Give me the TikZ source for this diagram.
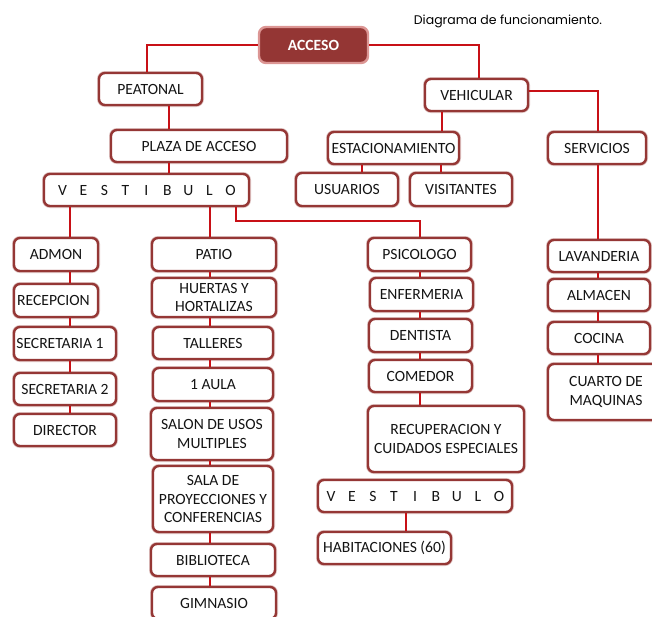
\documentclass[tikz,border=0pt]{standalone}
\usepackage{fontspec}
\setmainfont{Carlito}
\newfontfamily\titlefont{Poppins}
\definecolor{boxred}{RGB}{149,55,53}
\definecolor{linkred}{RGB}{200,16,22}
\definecolor{accfill}{RGB}{148,54,52}
\definecolor{accedge}{RGB}{220,150,148}
\definecolor{txt}{RGB}{20,20,20}
\newcommand{\vestletters}{\makebox[21pt]{V}\makebox[21pt]{E}\makebox[21pt]{S}\makebox[21pt]{T}\makebox[21pt]{I}\makebox[21pt]{B}\makebox[21pt]{U}\makebox[21pt]{L}\makebox[21pt]{O}}
\tikzset{
  boxnode/.style={draw=boxred, line width=2.4pt, rounded corners=6pt, fill=white,
    preaction={draw=boxred!30, line width=4pt},
    inner sep=0pt, align=center, text=txt,
    font=\fontsize{15.6}{18.5}\selectfont},
  link/.style={draw=linkred, line width=1.1pt},
}
\newcommand{\bx}[6]{% name, x1,y1,x2,y2, text
  \node[boxnode, minimum width={#4-#2}, minimum height={#5-#3}] (#1) at ({(#2+#4)/2},{(#3+#5)/2}) {#6};}
\begin{document}
\begin{tikzpicture}[x=1pt,y=-1pt]
\useasboundingbox (0,0) rectangle (652,616);
\clip (0,0) rectangle (652,616);
% title
\node[font=\titlefont\fontsize{12.5}{15}\selectfont, text=black] (title) at (508,21) {Diagrama de funcionamiento.};
% acceso
\node[draw=accedge, fill=accfill, line width=2.4pt, rounded corners=7pt, minimum width=109pt, minimum height=36pt,
  text=white, font=\bfseries\fontsize{15.6}{18}\selectfont] (acceso) at (313.5,45) {ACCESO};
% boxes
\bx{peatonal}{99}{73}{202}{105}{PEATONAL}
\bx{plaza}{111}{130}{287}{162}{PLAZA DE ACCESO}
\bx{vestA}{44}{174}{249}{206}{\vestletters}
\bx{vehicular}{425}{79}{528}{111}{VEHICULAR}
\bx{estac}{328}{132}{459}{164}{ESTACIONAMIENTO}
\bx{usuarios}{296}{173}{398}{206}{USUARIOS}
\bx{visitantes}{410}{173}{512}{206}{VISITANTES}
\bx{servicios}{548}{132}{646}{164}{SERVICIOS}
\bx{admon}{14}{238}{98}{271}{ADMON}
\bx{recepcion}{14}{284}{98}{317}{RECEPCION\hspace{5pt}}
\bx{secA}{14}{327}{116}{360}{SECRETARIA 1\hspace{10pt}}
\bx{secB}{14}{373}{116}{405}{SECRETARIA 2}
\bx{director}{14}{414}{116}{446}{DIRECTOR}
\bx{patio}{152}{238}{276}{271}{PATIO}
\bx{huertas}{152}{278}{276}{317}{HUERTAS Y\\HORTALIZAS}
\bx{talleres}{153}{327}{273}{359}{TALLERES}
\bx{aula}{153}{368}{273}{401}{1 AULA}
\bx{salon}{151}{408}{273}{460}{SALON DE USOS\\MULTIPLES}
\bx{sala}{153}{466}{273}{532}{SALA DE\\PROYECCIONES Y\\CONFERENCIAS}
\bx{biblio}{151}{544}{275}{576}{BIBLIOTECA}
\bx{gimnasio}{152}{587}{276}{619}{GIMNASIO}
\bx{psico}{368}{238}{471}{271}{PSICOLOGO}
\bx{enfer}{370}{278}{473}{311}{ENFERMERIA}
\bx{dentista}{369}{319}{472}{352}{DENTISTA}
\bx{comedor}{369}{360}{472}{392}{COMEDOR}
\bx{recup}{368}{406}{524}{472}{RECUPERACION Y\\CUIDADOS ESPECIALES}
\bx{vestB}{318}{480}{512}{512}{\vestletters}
\bx{habit}{318}{532}{451}{564}{HABITACIONES (60)}
\bx{lavand}{548}{240}{650}{272}{LAVANDERIA}
\bx{almacen}{548}{279}{650}{311}{ALMACEN}
\bx{cocina}{548}{322}{650}{354}{COCINA}
\bx{cuarto}{548}{364}{664}{420}{CUARTO DE\\MAQUINAS\hspace{14pt}}
% x positions of vertical connectors
\coordinate (xa) at (147,0);
\coordinate (xb) at (169,0);
\coordinate (xc) at (70,0);
\coordinate (xd) at (210,0);
\coordinate (xe) at (236,0);
\coordinate (xf) at (420,0);
\coordinate (xg) at (479,0);
\coordinate (xh) at (442,0);
\coordinate (xi) at (362,0);
\coordinate (xj) at (441,0);
\coordinate (xk) at (598,0);
\coordinate (xl) at (406,0);
\coordinate (ym) at (0,221);
\coordinate (yv) at (0,91);
% connectors
\draw[link] (acceso.west) -| (peatonal.north -| xa);
\draw[link] (acceso.east) -| (vehicular.north -| xg);
\draw[link] (vehicular.east |- yv) -| (servicios.north -| xk);
\draw[link] (peatonal.south -| xb) -- (plaza.north -| xb);
\draw[link] (plaza.south -| xb) -- (vestA.north -| xb);
\draw[link] (vehicular.south -| xh) -- (estac.north -| xh);
\draw[link] (estac.south -| xi) -- (usuarios.north -| xi);
\draw[link] (estac.south -| xj) -- (visitantes.north -| xj);
\draw[link] (vestA.south -| xc) -- (admon.north -| xc);
\draw[link] (admon.south -| xc) -- (recepcion.north -| xc);
\draw[link] (recepcion.south -| xc) -- (secA.north -| xc);
\draw[link] (secA.south -| xc) -- (secB.north -| xc);
\draw[link] (secB.south -| xc) -- (director.north -| xc);
\draw[link] (vestA.south -| xd) -- (patio.north -| xd);
\draw[link] (patio.south -| xd) -- (huertas.north -| xd);
\draw[link] (huertas.south -| xd) -- (talleres.north -| xd);
\draw[link] (talleres.south -| xd) -- (aula.north -| xd);
\draw[link] (aula.south -| xd) -- (salon.north -| xd);
\draw[link] (salon.south -| xd) -- (sala.north -| xd);
\draw[link] (sala.south -| xd) -- (biblio.north -| xd);
\draw[link] (biblio.south -| xd) -- (gimnasio.north -| xd);
\draw[link] (vestA.south -| xe) -- (ym -| xe) -- (ym -| xf) -- (psico.north -| xf);
\draw[link] (psico.south -| xf) -- (enfer.north -| xf);
\draw[link] (enfer.south -| xf) -- (dentista.north -| xf);
\draw[link] (dentista.south -| xf) -- (comedor.north -| xf);
\draw[link] (comedor.south -| xf) -- (recup.north -| xf);
\draw[link] (vestB.south -| xl) -- (habit.north -| xl);
\draw[link] (servicios.south -| xk) -- (lavand.north -| xk);
\draw[link] (lavand.south -| xk) -- (almacen.north -| xk);
\draw[link] (almacen.south -| xk) -- (cocina.north -| xk);
\draw[link] (cocina.south -| xk) -- (cuarto.north -| xk);
\end{tikzpicture}
\end{document}
